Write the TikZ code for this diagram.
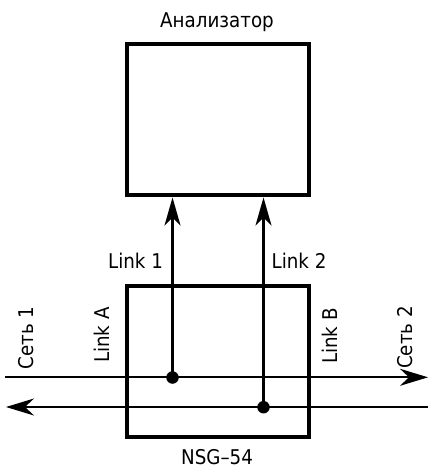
\documentclass[tikz,border=0pt]{standalone}
\usepackage{fontspec}
\setmainfont[FakeStretch=0.9]{DejaVu Sans}
\usetikzlibrary{arrows.meta}
\tikzset{
  devbox/.style={draw=black,line width=3.7pt,fill=none,minimum width=182pt,minimum height=151pt,inner sep=0pt,outer sep=0pt,anchor=north west},
  wire/.style={draw=black,line width=2.1pt,-{Stealth[length=28pt,width=16pt,inset=8pt]}},
  hwire/.style={draw=black,line width=2.1pt,-{Stealth[length=28pt,width=17pt,inset=9pt]}},
  dotnode/.style={circle,fill=black,minimum size=12.5pt,inner sep=0pt},
  lbl/.style={font=\fontsize{20.3pt}{22pt}\selectfont,inner sep=0pt,text=black},
  vlbl/.style={lbl,rotate=90}
}
\begin{document}
\begin{tikzpicture}[x=1pt,y=-1pt]
\useasboundingbox (0,0) rectangle (428,468);
\node[devbox] (an) at (126.7,44.3) {};
\node[devbox] (nsg) at (126.7,285.7) {};
\coordinate (l1w) at (5,377.3);
\coordinate (l1e) at (428,377.3);
\coordinate (l2e) at (428,407);
\coordinate (l2w) at (6,407);
\node[dotnode] (d1) at (172.5,377.5) {};
\node[dotnode] (d2) at (263.5,407.2) {};
\coordinate (a1) at (172.5,197.5);
\coordinate (a2) at (263.5,197.5);
\draw[hwire] (l1w) -- (l1e);
\draw[hwire] (l2e) -- (l2w);
\draw[wire] (d1.center) -- (a1);
\draw[wire] (d2.center) -- (a2);
\node[lbl] (tA) at (217,22) {Анализатор};
\node[lbl] (tN) at (217,457) {NSG–54};
\node[lbl] (t1) at (135.5,261) {Link 1};
\node[lbl] (t2) at (299,261) {Link 2};
\node[vlbl] (s1) at (26,338) {Сеть 1};
\node[vlbl] (lA) at (102,335) {Link A};
\node[vlbl] (lB) at (330,336) {Link B};
\node[vlbl] (s2) at (405,337.5) {Сеть 2};
\end{tikzpicture}
\end{document}
